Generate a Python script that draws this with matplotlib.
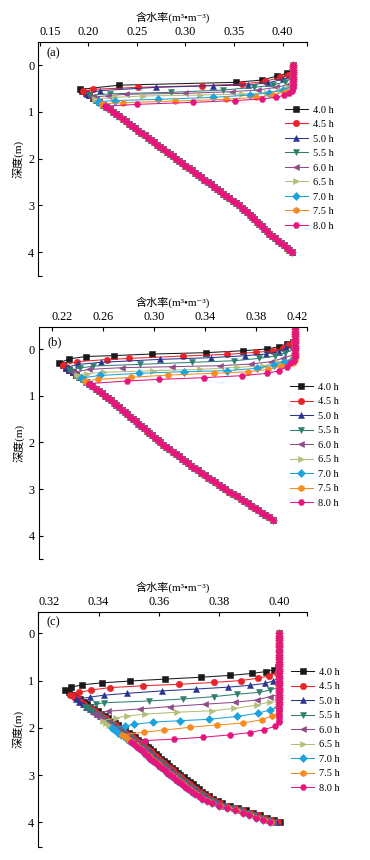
import numpy as np
import matplotlib
matplotlib.use('Agg')
import matplotlib.pyplot as plt

plt.rcParams['font.family'] = ['Liberation Serif', 'Noto Sans CJK SC', 'DejaVu Serif']

# series labels and styles
times = ['4.0 h', '4.5 h', '5.0 h', '5.5 h', '6.0 h', '6.5 h', '7.0 h', '7.5 h', '8.0 h']
colors = ['#1a1a1a', '#e8232a', '#2b3591', '#2f7f6f', '#8e4b8a',
          '#b2be7a', '#1aa3de', '#f68b1f', '#e6157d']
markers = ['s', 'o', '^', 'v', '<', '>', 'D', 'h', 'H']

# ---------------- panel (a) ----------------
theta_s_a = 0.411
top_a = 0.0
base_a_depth = np.round(np.arange(0.50, 4.001, 0.05), 2)
base_a_theta = [0.1906, 0.1941, 0.1976, 0.2011, 0.2046, 0.2081, 0.2116, 0.2151, 0.2186, 0.2221,
                0.2256, 0.2288, 0.2321, 0.2353, 0.2386, 0.2418, 0.2450, 0.2483, 0.2515, 0.2548,
                0.2580, 0.2612, 0.2645, 0.2677, 0.2709, 0.2742, 0.2774, 0.2806, 0.2838, 0.2871,
                0.2903, 0.2935, 0.2968, 0.3000, 0.3032, 0.3065, 0.3097, 0.3130, 0.3162, 0.3195,
                0.3227, 0.3259, 0.3292, 0.3324, 0.3356, 0.3389, 0.3421, 0.3453, 0.3486, 0.3518,
                0.3550, 0.3578, 0.3605, 0.3633, 0.3660, 0.3685, 0.3710, 0.3735, 0.3760, 0.3785,
                0.3810, 0.3835, 0.3860, 0.3890, 0.3920, 0.3950, 0.3980, 0.4010, 0.4040, 0.4070,
                0.4100]
front_a_depth = [
    [0.14, 0.18, 0.235, 0.32, 0.37, 0.43, 0.52],
    [0.18, 0.22, 0.264, 0.35, 0.406, 0.442, 0.477, 0.52, 0.56],
    [0.24, 0.306, 0.377, 0.427, 0.442, 0.477, 0.548, 0.61],
    [0.29, 0.356, 0.427, 0.477, 0.534, 0.584, 0.615, 0.65],
    [0.36, 0.427, 0.477, 0.534, 0.57, 0.605, 0.625, 0.655, 0.69],
    [0.41, 0.477, 0.534, 0.591, 0.62, 0.641, 0.662, 0.69, 0.73],
    [0.46, 0.534, 0.591, 0.641, 0.691, 0.734, 0.76, 0.78],
    [0.50, 0.57, 0.641, 0.691, 0.734, 0.769, 0.805, 0.83],
    [0.55, 0.60, 0.65, 0.69, 0.726, 0.76, 0.798, 0.84, 0.88],
]
front_a_theta = [
    [0.410, 0.404, 0.3945, 0.379, 0.352, 0.232, 0.1920],
    [0.4105, 0.405, 0.397, 0.382, 0.3585, 0.3167, 0.2515, 0.205, 0.1948],
    [0.4095, 0.400, 0.3853, 0.3647, 0.328, 0.2697, 0.212, 0.1983],
    [0.4095, 0.4024, 0.3904, 0.371, 0.339, 0.285, 0.222, 0.2011],
    [0.4095, 0.4041, 0.3932, 0.375, 0.3475, 0.2995, 0.2385, 0.2206, 0.2039],
    [0.4095, 0.4058, 0.3973, 0.3836, 0.3578, 0.315, 0.2566, 0.2275, 0.2067],
    [0.4095, 0.400, 0.3863, 0.3664, 0.3287, 0.2721, 0.228, 0.2102],
    [0.4095, 0.4024, 0.3904, 0.3726, 0.3414, 0.2892, 0.2361, 0.2137],
    [0.4095, 0.407, 0.401, 0.393, 0.379, 0.351, 0.3074, 0.2505, 0.2172],
]
shift_a = [0, 0, 0, 0, 0, 0, 0, 0, 0]

# ---------------- panel (b) ----------------
theta_s_b = 0.410
top_b = -0.42
base_b_depth = np.round(np.arange(0.30, 3.651, 0.05), 2)
base_b_theta = [0.2260, 0.2286, 0.2312, 0.2338, 0.2364, 0.2390, 0.2416, 0.2442, 0.2468, 0.2494,
                0.2519, 0.2544, 0.2569, 0.2594, 0.2620, 0.2641, 0.2663, 0.2684, 0.2706, 0.2727,
                0.2749, 0.2770, 0.2792, 0.2813, 0.2835, 0.2857, 0.2878, 0.2900, 0.2921, 0.2943,
                0.2964, 0.2986, 0.3007, 0.3029, 0.3050, 0.3074, 0.3098, 0.3122, 0.3146, 0.3170,
                0.3194, 0.3218, 0.3242, 0.3266, 0.3290, 0.3317, 0.3344, 0.3371, 0.3398, 0.3425,
                0.3452, 0.3479, 0.3506, 0.3533, 0.3560, 0.3590, 0.3620, 0.3650, 0.3680, 0.3707,
                0.3735, 0.3762, 0.3790, 0.3818, 0.3845, 0.3873, 0.3900, 0.3930]
front_b_depth = [
    [-0.16, -0.107, -0.05, 0.0, 0.036, 0.078, 0.107, 0.14, 0.16, 0.21, 0.30],
    [-0.14, -0.086, -0.014, 0.036, 0.071, 0.114, 0.15, 0.20, 0.225, 0.27, 0.35],
    [-0.06, -0.014, 0.057, 0.107, 0.143, 0.185, 0.221, 0.285, 0.328, 0.40],
    [0.02, 0.078, 0.15, 0.20, 0.25, 0.285, 0.328, 0.364, 0.41, 0.45],
    [0.12, 0.20, 0.271, 0.321, 0.356, 0.378, 0.399, 0.435, 0.50],
    [0.20, 0.285, 0.364, 0.392, 0.435, 0.463, 0.499, 0.525, 0.56],
    [0.22, 0.271, 0.342, 0.413, 0.463, 0.485, 0.52, 0.565, 0.62],
    [0.30, 0.364, 0.435, 0.485, 0.52, 0.556, 0.606, 0.649, 0.68],
    [0.25, 0.306, 0.378, 0.463, 0.52, 0.570, 0.613, 0.649, 0.684, 0.74],
]
front_b_theta = [
    [0.4085, 0.404, 0.398, 0.3883, 0.370, 0.3406, 0.2983, 0.2688, 0.2466, 0.2338, 0.2260],
    [0.409, 0.4053, 0.4009, 0.3935, 0.380, 0.3575, 0.323, 0.2808, 0.263, 0.240, 0.2286],
    [0.409, 0.4035, 0.3975, 0.3875, 0.3714, 0.3445, 0.3048, 0.2586, 0.2409, 0.2312],
    [0.409, 0.4027, 0.3948, 0.3826, 0.363, 0.3296, 0.2891, 0.2526, 0.242, 0.2338],
    [0.409, 0.4009, 0.3914, 0.3758, 0.3518, 0.314, 0.2748, 0.2495, 0.2364],
    [0.409, 0.3967, 0.3852, 0.3648, 0.3361, 0.2996, 0.2612, 0.248, 0.2395],
    [0.409, 0.4014, 0.3936, 0.3805, 0.357, 0.3236, 0.2886, 0.258, 0.2426],
    [0.409, 0.3993, 0.3896, 0.374, 0.3471, 0.3114, 0.2818, 0.256, 0.2457],
    [0.4098, 0.4066, 0.404, 0.398, 0.3888, 0.3687, 0.3393, 0.3043, 0.2792, 0.2489],
]
shift_b = [0, 0, 0, 0, 0, 0, 0, 0, 0]

# ---------------- panel (c) ----------------
theta_s_c = 0.400
top_c = 0.0
base_c_depth = np.round(np.arange(1.20, 4.001, 0.05), 2)
base_c_theta = [0.3290, 0.3302, 0.3314, 0.3326, 0.3338, 0.3350, 0.3361, 0.3373, 0.3385, 0.3397,
                0.3409, 0.3420, 0.3432, 0.3443, 0.3455, 0.3466, 0.3478, 0.3489, 0.3500, 0.3511,
                0.3522, 0.3532, 0.3543, 0.3553, 0.3563, 0.3572, 0.3581, 0.3589, 0.3598, 0.3607,
                0.3616, 0.3626, 0.3635, 0.3644, 0.3654, 0.3663, 0.3672, 0.3682, 0.3692, 0.3702,
                0.3712, 0.3723, 0.3733, 0.3744, 0.3755, 0.3767, 0.3780, 0.3795, 0.3810, 0.3835,
                0.3862, 0.3888, 0.3913, 0.3936, 0.3959, 0.3981, 0.4003]
front_c_depth = [
    [0.72, 0.77, 0.81, 0.85, 0.89, 0.93, 0.97, 1.01, 1.05, 1.09, 1.14, 1.20],
    [0.84, 0.90, 0.95, 1.00, 1.04, 1.08, 1.11, 1.15, 1.20, 1.25, 1.30],
    [0.96, 1.01, 1.06, 1.10, 1.14, 1.18, 1.22, 1.27, 1.31, 1.35, 1.40],
    [1.15, 1.20, 1.25, 1.29, 1.34, 1.39, 1.433, 1.47, 1.50, 1.55],
    [1.30, 1.34, 1.41, 1.46, 1.50, 1.55, 1.60, 1.65, 1.70],
    [1.40, 1.45, 1.52, 1.59, 1.64, 1.67, 1.71, 1.75, 1.79, 1.85],
    [1.56, 1.62, 1.69, 1.76, 1.82, 1.85, 1.88, 1.93, 1.96, 2.00],
    [1.70, 1.75, 1.83, 1.90, 1.94, 1.99, 2.05, 2.09, 2.15],
    [1.88, 1.97, 2.04, 2.10, 2.15, 2.20, 2.24, 2.27, 2.30],
]
front_c_theta = [
    [0.3995, 0.3982, 0.3955, 0.3910, 0.3838, 0.3740, 0.3620, 0.3505, 0.3410, 0.3345, 0.3310, 0.3290],
    [0.3993, 0.3967, 0.3931, 0.3872, 0.3782, 0.3666, 0.3549, 0.3437, 0.3375, 0.3335, 0.3306],
    [0.3995, 0.3979, 0.3953, 0.3903, 0.3831, 0.3723, 0.3610, 0.3496, 0.3417, 0.3373, 0.3324],
    [0.3995, 0.3970, 0.3934, 0.3859, 0.3784, 0.3680, 0.3566, 0.3419, 0.3392, 0.3354],
    [0.3995, 0.3970, 0.3925, 0.3854, 0.3754, 0.3638, 0.3538, 0.3430, 0.3385],
    [0.3995, 0.3970, 0.3925, 0.3850, 0.3776, 0.3660, 0.3555, 0.3494, 0.3459, 0.3413],
    [0.3995, 0.3970, 0.3931, 0.3859, 0.3768, 0.3671, 0.3581, 0.3516, 0.3489, 0.3443],
    [0.3995, 0.3975, 0.3942, 0.3879, 0.3793, 0.3702, 0.3616, 0.3552, 0.3479],
    [0.3998, 0.3986, 0.3948, 0.3903, 0.3837, 0.3746, 0.3651, 0.3555, 0.3508],
]
shift_c = [0.0, -0.0008, -0.0014, -0.0019, -0.0024, -0.0030, -0.0035, -0.0032, -0.0035]

x_label = '含水率(m³•m⁻³)'
y_label = '深度(m)'


def build_profile(top, theta_s, fd, ft, base_d, base_t, shift):
    """saturated zone above the front, the front itself, then the lower profile"""
    sat_d = np.arange(top, fd[0] - 0.02, 0.05)
    sat_t = np.full(len(sat_d), theta_s)
    base_d = np.asarray(base_d)
    base_t = np.asarray(base_t) + shift
    keep = base_d > fd[-1] + 0.001
    d = np.concatenate([sat_d, fd, base_d[keep]])
    t = np.concatenate([sat_t, ft, base_t[keep]])
    return t, d


def draw_panel(ax, top, theta_s, fds, fts, base_d, base_t, shifts,
               xlim, xticks, ylim, letter, letter_y, leg_anchor, right_label=False):
    for i in range(len(times)):
        t, d = build_profile(top, theta_s, fds[i], fts[i], base_d, base_t, shifts[i])
        ax.plot(t, d, color=colors[i], marker=markers[i], ms=4.6 if markers[i] != 'D' else 3.7,
                mec=colors[i], mew=0.4, lw=0.75, label=times[i])

    ax.set_xlim(*xlim)
    ax.set_ylim(*ylim)
    for s in ['right', 'bottom']:
        ax.spines[s].set_visible(False)
    for s in ['top', 'left']:
        ax.spines[s].set_linewidth(0.8)
    ax.xaxis.tick_top()
    ax.xaxis.set_label_position('top')
    ax.set_xticks(xticks)
    ax.set_xticklabels(['%.2f' % v for v in xticks])
    ax.set_yticks([0, 1, 2, 3, 4])
    ax.set_xticks([xlim[1]], minor=True)
    ax.set_yticks([ylim[0]], minor=True)
    ax.tick_params(which='both', direction='in', length=3, width=0.8, labelsize=8.8)
    ax.tick_params(axis='x', pad=3)
    ax.tick_params(axis='y', pad=3)
    labels = ax.get_xticklabels()
    labels[0].set_horizontalalignment('left')
    if right_label:
        labels[-1].set_horizontalalignment('right')
    ax.set_xlabel(x_label, fontsize=8, labelpad=4)
    ax.set_ylabel(y_label, fontsize=8, labelpad=3)
    ax.text(0.03, letter_y, letter, transform=ax.transAxes, fontsize=9,
            ha='left', va='center')
    ax.legend(loc='upper left', bbox_to_anchor=leg_anchor, frameon=False, fontsize=7.5,
              handlelength=2.2, handletextpad=0.5, labelspacing=0.5,
              borderpad=0, borderaxespad=0, markerscale=1.0)


def main():
    fig = plt.figure(figsize=(3.7, 8.6), dpi=100)
    ax_a = fig.add_axes([0.1035, 0.6795, 0.727, 0.2713])
    ax_b = fig.add_axes([0.1054, 0.3497, 0.7251, 0.2697])
    ax_c = fig.add_axes([0.1035, 0.0155, 0.727, 0.2729])

    draw_panel(ax_a, top_a, theta_s_a, front_a_depth, front_a_theta,
               base_a_depth, base_a_theta, shift_a,
               (0.1487, 0.4253), [0.15, 0.20, 0.25, 0.30, 0.35, 0.40], (4.5, -0.485),
               '(a)', 0.955, (0.917, 0.73))
    draw_panel(ax_b, top_b, theta_s_b, front_b_depth, front_b_theta,
               base_b_depth, base_b_theta, shift_b,
               (0.2101, 0.4200), [0.22, 0.26, 0.30, 0.34, 0.38, 0.42], (4.5, -0.465),
               '(b)', 0.935, (0.935, 0.762), right_label=True)
    draw_panel(ax_c, top_c, theta_s_c, front_c_depth, front_c_theta,
               base_c_depth, base_c_theta, shift_c,
               (0.31998, 0.4093), [0.32, 0.34, 0.36, 0.38, 0.40], (4.516, -0.451),
               '(c)', 0.958, (0.94, 0.764))

    fig.savefig('out.png', dpi=100)


if __name__ == '__main__':
    main()
